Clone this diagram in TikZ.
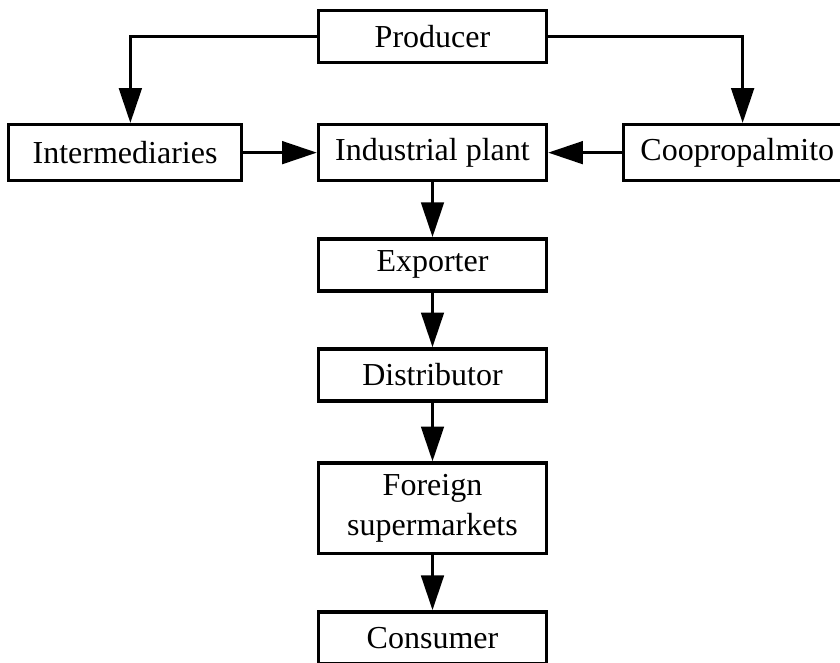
\documentclass[tikz,border=0pt]{standalone}
\usepackage{fontspec}
\setmainfont{Liberation Serif}
\usetikzlibrary{positioning,arrows.meta}

\begin{document}
\begin{tikzpicture}[
  x=0.75pt,y=-0.75pt,
  node distance=41pt and 55pt,
  box/.style={draw,line width=2.6pt,minimum width=171pt,minimum height=39pt,
              inner sep=2pt,align=center,font=\fontsize{24}{30}\selectfont},
  ar/.style={-{Triangle[length=26pt,width=17pt]},line width=2pt}
]
\useasboundingbox (0,0) rectangle (840,662);
\clip (0,0) rectangle (840,662);

\node[box] (prod) at (432.5,36.5) {Producer};
\node[box,minimum height=42pt,below=44pt of prod] (plant) {Industrial plant};
\node[box,minimum height=42pt,minimum width=175pt,left=of plant] (inter) {Intermediaries};
\node[box,minimum height=42pt,right=of plant] (coop) {Coopropalmito};
\node[box,below=of plant] (exp) {Exporter};
\node[box,below=of exp] (dist) {Distributor};
\node[box,minimum height=68pt,below=44pt of dist] (super) {Foreign\\supermarkets};
\node[box,below=of super] (cons) {Consumer};

\draw[ar] (prod.west) -| ([xshift=4pt]inter.north);
\draw[ar] (prod.east) -| ([xshift=4pt]coop.north);
\draw[ar] (inter) -- (plant);
\draw[ar] (coop) -- (plant);
\draw[ar] (plant) -- (exp);
\draw[ar] (exp) -- (dist);
\draw[ar] (dist) -- (super);
\draw[ar] (super) -- (cons);
\end{tikzpicture}
\end{document}
